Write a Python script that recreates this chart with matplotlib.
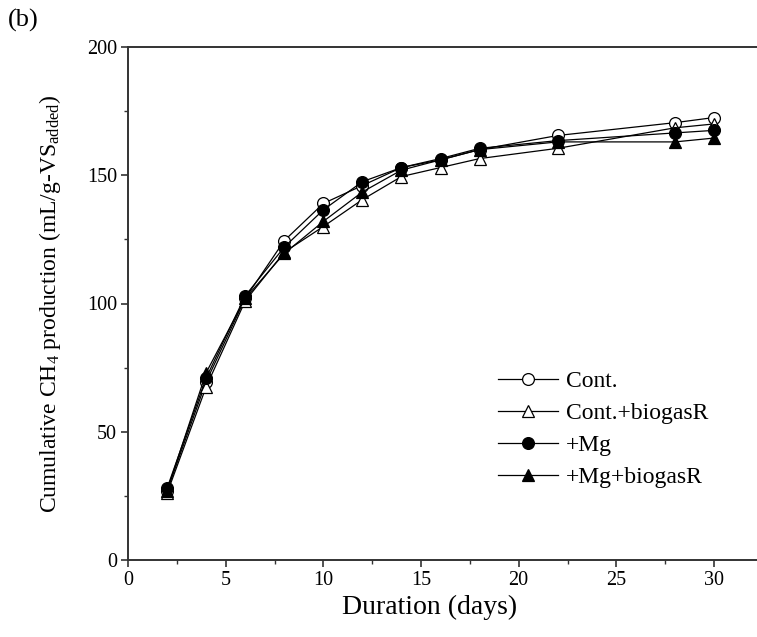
import matplotlib
matplotlib.use("Agg")
import matplotlib.pyplot as plt
from matplotlib.ticker import MultipleLocator

plt.rcParams["font.family"] = ["Liberation Serif", "DejaVu Serif"]
plt.rcParams["mathtext.fontset"] = "custom"
plt.rcParams["mathtext.rm"] = "Liberation Serif"
plt.rcParams["mathtext.it"] = "Liberation Serif:italic"

# Sampling days and cumulative methane yields (mL/g-VS added)
days = [2, 4, 6, 8, 10, 12, 14, 16, 18, 22, 28, 30]
cont = [27, 69.5, 102, 124.5, 139, 146, 153, 156, 160, 165.5, 170.5, 172.5]
cont_biogasr = [26, 67.5, 101, 120, 130, 140.5, 149.5, 153, 156.5, 160.5, 168.5, 170]
mg = [28, 71, 103, 122, 136.5, 147.5, 153, 156.5, 160.5, 163.5, 166.5, 167.5]
mg_biogasr = [27, 73, 102, 119.5, 132, 143.5, 152, 156, 160, 163, 163, 164.5]

series_labels = ["Cont.", "Cont.+biogasR", "+Mg", "+Mg+biogasR"]

fig = plt.figure(figsize=(7.57, 6.37), dpi=100)
ax = fig.add_axes([128 / 757, 77 / 637, 1 - 128 / 757, 513 / 637])

styles = [
    dict(marker="o", mfc="white"),
    dict(marker="^", mfc="white"),
    dict(marker="o", mfc="black"),
    dict(marker="^", mfc="black"),
]
for vals, lab, st in zip([cont, cont_biogasr, mg, mg_biogasr], series_labels, styles):
    ax.plot(days, vals, color="black", lw=0.9, ms=8.5, mec="black", mew=0.9,
            label=lab, **st)

ax.set_xlim(0, 32.2)
ax.set_ylim(0, 200)
ax.xaxis.set_major_locator(MultipleLocator(5))
ax.xaxis.set_minor_locator(MultipleLocator(2.5))
ax.yaxis.set_major_locator(MultipleLocator(50))
ax.yaxis.set_minor_locator(MultipleLocator(25))

for side in ["top", "left", "bottom"]:
    ax.spines[side].set_color("#333333")
    ax.spines[side].set_linewidth(1.4)
ax.spines["right"].set_visible(False)

ax.tick_params(which="major", direction="out", length=5, width=1.2, color="#333333",
               labelsize=14.5, pad=3)
ax.tick_params(which="minor", direction="out", length=3, width=1.0, color="#333333")

ax.set_xlabel("Duration (days)", fontsize=20)
ax.xaxis.set_label_coords(0.48, -0.067)
ax.set_ylabel(r"Cumulative CH$_4$ production (mL/g-VS$_{\mathrm{added}}$)",
              fontsize=17, labelpad=17)

leg = ax.legend(loc="center left", bbox_to_anchor=(0.574, 0.255), frameon=False,
                fontsize=17, handlelength=2.5, handletextpad=0.34,
                labelspacing=0.44, borderaxespad=0)

fig.text(8 / 757, 1 - 20 / 637, "(b)", fontsize=19, va="center", ha="left")

fig.savefig("out.png", dpi=100)
